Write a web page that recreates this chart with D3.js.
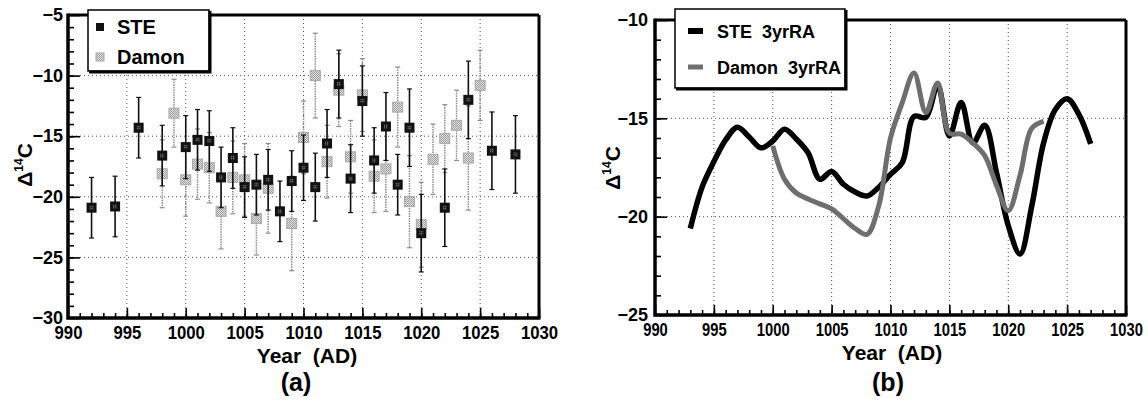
<!DOCTYPE html>
<html>
<head>
<meta charset="utf-8">
<script src="https://cdn.jsdelivr.net/npm/d3@7"></script>
<style>
  body { margin: 0; background: #fff; }
  text { font-family: "Liberation Sans", Arial, sans-serif; font-weight: bold; fill: #000; }
</style>
</head>
<body>
<svg id="chart" width="1148" height="402"></svg>
<script>
// ---- panel (a): annual values with 1-sigma errors ----
const steYears = [992, 994, 996, 998, 1000, 1001, 1002, 1003, 1004, 1005, 1006, 1007, 1008, 1009, 1010,
  1011, 1012, 1013, 1014, 1015, 1016, 1017, 1018, 1019, 1020, 1022, 1024, 1026, 1028];
const steVals = [-20.9, -20.8, -14.3, -16.6, -15.9, -15.3, -15.4, -18.4, -16.8, -19.2, -19.0, -18.6, -21.2, -18.7, -17.6,
  -19.2, -15.6, -10.7, -18.5, -12.1, -17.0, -14.2, -19.0, -14.3, -23.0, -20.9, -12.0, -16.2, -16.5];
const steErr = [2.5, 2.5, 2.5, 2.5, 2.6, 2.5, 2.5, 2.5, 2.5, 2.5, 2.5, 2.5, 2.5, 2.5, 2.7,
  2.8, 2.8, 2.8, 2.8, 2.9, 2.7, 2.8, 2.5, 3.2, 3.2, 3.2, 3.2, 3.2, 3.2];

const damonYears = [998, 999, 1000, 1001, 1002, 1003, 1004, 1005, 1006, 1007, 1009, 1010, 1011, 1012,
  1013, 1014, 1015, 1016, 1017, 1018, 1019, 1020, 1021, 1022, 1023, 1024, 1025];
const damonVals = [-18.1, -13.1, -18.6, -17.3, -17.6, -21.2, -18.4, -18.6, -21.8, -19.3, -22.2, -15.1, -10.0, -17.1,
  -11.2, -16.7, -11.6, -18.3, -17.7, -12.6, -20.4, -22.3, -16.9, -15.2, -14.1, -16.8, -10.8];
const damonErr = [2.8, 2.8, 3.0, 2.9, 2.9, 3.1, 3.0, 3.0, 3.0, 3.7, 3.9, 3.0, 3.5, 3.0,
  3.0, 3.0, 3.0, 3.0, 3.5, 3.3, 3.8, 3.5, 2.9, 2.8, 2.9, 4.3, 2.9];

// ---- panel (b): 3-year running averages ----
const steRAYears = d3.range(993, 1028);
const steRA = [-20.6, -18.5, -17.2, -16.1, -15.45, -15.95, -16.5, -16.15, -15.55, -16.05, -16.75, -18.1,
  -17.7, -18.35, -18.75, -18.95, -18.5, -17.85, -17.25, -14.9, -14.95, -13.3, -15.9, -14.2, -16.25,
  -15.35, -17.75, -20.45, -21.9, -19.45, -16.25, -14.55, -14.0, -14.8, -16.3];
const damonRAYears = d3.range(1000, 1024);
const damonRA = [-16.4, -18.1, -18.8, -19.1, -19.35, -19.6, -20.1, -20.6, -20.9, -19.45, -16.0, -14.2,
  -12.7, -14.7, -13.2, -15.75, -15.8, -16.25, -16.9, -18.4, -19.7, -17.9, -15.5, -15.15];

const xTicks = [990, 995, 1000, 1005, 1010, 1015, 1020, 1025, 1030];
const yTicksA = [-30, -25, -20, -15, -10, -5];
const yTicksB = [-25, -20, -15, -10];

const svg = d3.select('#chart');

const defs = svg.append('defs');
const pLight = defs.append('pattern').attr('id', 'ditherLight')
  .attr('width', 2).attr('height', 2).attr('patternUnits', 'userSpaceOnUse');
pLight.append('rect').attr('width', 2).attr('height', 2).attr('fill', '#e4e4e4');
pLight.append('rect').attr('width', 1).attr('height', 1).attr('fill', '#9a9a9a');
pLight.append('rect').attr('x', 1).attr('y', 1).attr('width', 1).attr('height', 1).attr('fill', '#9a9a9a');
const pDark = defs.append('pattern').attr('id', 'ditherDark')
  .attr('width', 2).attr('height', 2).attr('patternUnits', 'userSpaceOnUse');
pDark.append('rect').attr('width', 2).attr('height', 2).attr('fill', '#222');
pDark.append('rect').attr('width', 1).attr('height', 1).attr('fill', '#999');

function drawPanel(p) {
  const x = d3.scaleLinear().domain([990, 1030]).range([p.left, p.right]);
  const y = d3.scaleLinear().domain([p.yTicks[0], p.yTicks[p.yTicks.length - 1]]).range([p.bottom, p.top]);
  const g = svg.append('g');

  // dotted grid
  g.append('g').selectAll('line').data(xTicks.slice(1, -1)).join('line')
    .attr('x1', d => x(d)).attr('x2', d => x(d))
    .attr('y1', p.top).attr('y2', p.bottom);
  g.append('g').selectAll('line').data(p.yTicks.slice(1, -1)).join('line')
    .attr('x1', p.left).attr('x2', p.right)
    .attr('y1', d => y(d)).attr('y2', d => y(d));
  g.selectAll('line').attr('stroke', '#555').attr('stroke-width', 1).attr('stroke-dasharray', '1,3');

  // minor ticks (inward)
  g.append('g').attr('transform', `translate(0,${p.bottom})`)
    .call(d3.axisBottom(x).tickValues(d3.range(991, 1030)).tickSize(-5).tickFormat(''))
    .call(a => a.select('.domain').remove());
  g.append('g').attr('transform', `translate(${p.left},0)`)
    .call(d3.axisLeft(y).tickValues(d3.range(p.yTicks[0] + 1, p.yTicks[p.yTicks.length - 1])).tickSize(-6).tickFormat(''))
    .call(a => a.select('.domain').remove());

  // major ticks + labels
  const xa = g.append('g').attr('transform', `translate(0,${p.bottom})`)
    .call(d3.axisBottom(x).tickValues(xTicks).tickSize(-10).tickPadding(p.xPad).tickFormat(d3.format('d')))
    .call(a => a.select('.domain').remove());
  xa.selectAll('text').attr('font-size', 18).attr('font-family', null)
    .attr('transform', `scale(${p.xScale},1)`);
  const ya = g.append('g').attr('transform', `translate(${p.left},0)`)
    .call(d3.axisLeft(y).tickValues(p.yTicks).tickSize(-12).tickPadding(p.yPad).tickFormat(d3.format('d')))
    .call(a => a.select('.domain').remove());
  ya.selectAll('text').attr('font-size', 18).attr('font-family', null);
  g.selectAll('.tick line').attr('stroke', '#000').attr('stroke-width', 1.6).attr('stroke-dasharray', null);

  // frame
  g.append('path').attr('d', `M${p.left},${p.top}H${p.right}`).attr('stroke', '#000').attr('stroke-width', 3);
  g.append('path').attr('d', `M${p.right},${p.top}V${p.bottom}`).attr('stroke', '#000').attr('stroke-width', 3);
  g.append('path').attr('d', `M${p.left},${p.top - 1.5}V${p.bottom}H${p.right + 1.5}`)
    .attr('fill', 'none').attr('stroke', '#000').attr('stroke-width', 3.5);

  // axis titles
  g.append('text').attr('x', p.titleX).attr('y', p.titleY).attr('text-anchor', 'middle')
    .attr('font-size', 21).attr('xml:space', 'preserve').text('Year  (AD)');
  g.append('text').attr('x', p.tagX).attr('y', 391).attr('text-anchor', 'middle')
    .attr('font-size', 25).text(p.tag);
  const yl = g.append('text').attr('text-anchor', 'middle').attr('font-size', 21)
    .attr('transform', `translate(${p.ylabX},${p.ylabY}) rotate(-90)`);
  yl.append('tspan').text('Δ');
  yl.append('tspan').attr('font-size', 12).attr('dy', -9).text('14');
  yl.append('tspan').attr('dy', 9).text('C');

  return { g, x, y };
}

// ---------- panel (a) ----------
const A = drawPanel({ left: 68, right: 539, top: 15, bottom: 318, yTicks: yTicksA,
  xPad: 8, yPad: 5, xScale: 0.93, titleX: 307, titleY: 363, tagX: 296, tag: '(a)', ylabX: 32, ylabY: 165 });

function errorBars(g, x, y, years, vals, errs, style) {
  const eb = g.append('g');
  years.forEach((yr, i) => {
    const cx = x(yr), y1 = y(vals[i] + errs[i]), y2 = y(vals[i] - errs[i]);
    eb.append('line').attr('x1', cx).attr('x2', cx).attr('y1', y1).attr('y2', y2)
      .attr('stroke', style.color).attr('stroke-width', style.width).attr('stroke-dasharray', style.dash);
    [y1, y2].forEach(yy => eb.append('line').attr('x1', cx - 2.5).attr('x2', cx + 2.5)
      .attr('y1', yy).attr('y2', yy).attr('stroke', style.color).attr('stroke-width', 1.2));
  });
}

errorBars(A.g, A.x, A.y, damonYears, damonVals, damonErr, { color: '#8c8c8c', width: 1.5, dash: '1.5,1' });
A.g.append('g').selectAll('rect').data(damonYears).join('rect')
  .attr('x', (d) => A.x(d) - 5).attr('y', (d, i) => A.y(damonVals[i]) - 5)
  .attr('width', 10).attr('height', 10)
  .attr('fill', 'url(#ditherLight)').attr('stroke', '#a8a8a8').attr('stroke-width', 1);

errorBars(A.g, A.x, A.y, steYears, steVals, steErr, { color: '#111', width: 1.6, dash: null });
const steMarks = A.g.append('g').selectAll('g').data(steYears).join('g')
  .attr('transform', (d, i) => `translate(${A.x(d)},${A.y(steVals[i])})`);
steMarks.append('rect').attr('x', -5).attr('y', -5).attr('width', 10).attr('height', 10).attr('fill', '#111');
steMarks.append('rect').attr('x', -2).attr('y', -2).attr('width', 4).attr('height', 4).attr('fill', 'url(#ditherDark)');

// legend (a)
const legA = svg.append('g');
legA.append('rect').attr('x', 88).attr('y', 10).attr('width', 121).attr('height', 61)
  .attr('fill', '#fff').attr('stroke', '#000').attr('stroke-width', 1.5);
legA.append('path').attr('d', 'M210,11V72H89').attr('fill', 'none').attr('stroke', '#000').attr('stroke-width', 3);
legA.append('rect').attr('x', 96).attr('y', 23).attr('width', 8).attr('height', 8).attr('fill', '#111');
legA.append('rect').attr('x', 96).attr('y', 53).attr('width', 8).attr('height', 8)
  .attr('fill', 'url(#ditherLight)').attr('stroke', '#a8a8a8');
legA.append('text').attr('x', 117).attr('y', 34).attr('font-size', 20).text('STE');
legA.append('text').attr('x', 117).attr('y', 64).attr('font-size', 20).text('Damon');

// ---------- panel (b) ----------
const B = drawPanel({ left: 655, right: 1126, top: 20, bottom: 315, yTicks: yTicksB,
  xPad: 8, yPad: 7, xScale: 0.82, titleX: 892, titleY: 360, tagX: 888, tag: '(b)', ylabX: 620, ylabY: 168 });

const line = d3.line().curve(d3.curveCatmullRom.alpha(0.5));
B.g.append('path')
  .attr('d', line(steRAYears.map((d, i) => [B.x(d), B.y(steRA[i])])))
  .attr('fill', 'none').attr('stroke', '#000').attr('stroke-width', 5.5)
  .attr('stroke-linejoin', 'round');
B.g.append('path')
  .attr('d', line(damonRAYears.map((d, i) => [B.x(d), B.y(damonRA[i])])))
  .attr('fill', 'none').attr('stroke', '#6e6e6e').attr('stroke-width', 5)
  .attr('stroke-linejoin', 'round');

// legend (b)
const legB = svg.append('g');
legB.append('rect').attr('x', 675).attr('y', 9).attr('width', 170).attr('height', 79)
  .attr('fill', '#fff').attr('stroke', '#000').attr('stroke-width', 1.5);
legB.append('path').attr('d', 'M846,10V89H676').attr('fill', 'none').attr('stroke', '#000').attr('stroke-width', 3);
legB.append('line').attr('x1', 688).attr('x2', 703).attr('y1', 31).attr('y2', 31)
  .attr('stroke', '#000').attr('stroke-width', 6);
legB.append('line').attr('x1', 688).attr('x2', 703).attr('y1', 67).attr('y2', 67)
  .attr('stroke', '#6e6e6e').attr('stroke-width', 5);
legB.append('text').attr('x', 717).attr('y', 37.5).attr('font-size', 18)
  .attr('xml:space', 'preserve').text('STE  3yrRA');
legB.append('text').attr('x', 717).attr('y', 74).attr('font-size', 18)
  .attr('xml:space', 'preserve').text('Damon  3yrRA');
</script>
</body>
</html>
